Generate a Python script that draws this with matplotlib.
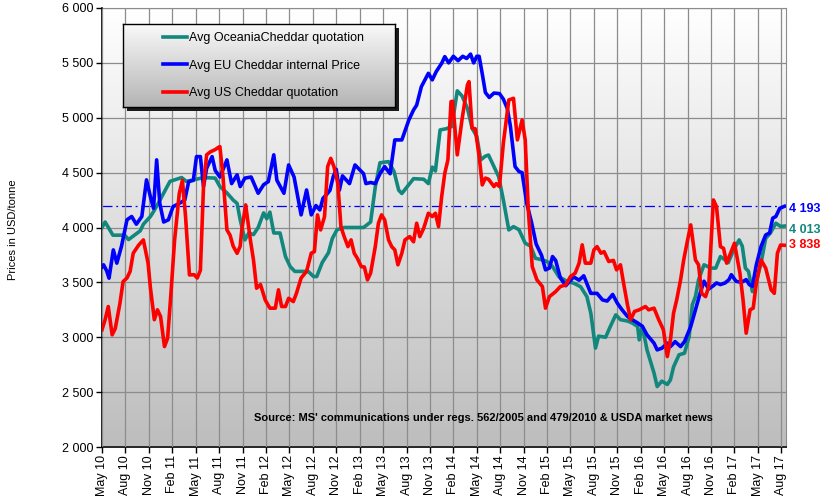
import numpy as np
import matplotlib
matplotlib.use("Agg")
import matplotlib.pyplot as plt
from matplotlib.patches import Rectangle

plt.rcParams['font.family'] = ['Liberation Sans', 'DejaVu Sans']

# months since May 2010
tick_labels = ["May 10", "Aug 10", "Nov 10", "Feb 11", "May 11", "Aug 11", "Nov 11", "Feb 12",
               "May 12", "Aug 12", "Nov 12", "Feb 13", "May 13", "Aug 13", "Nov 13", "Feb 14",
               "May 14", "Aug 14", "Nov 14", "Feb 15", "May 15", "Aug 15", "Nov 15", "Feb 16",
               "May 16", "Aug 16", "Nov 16", "Feb 17", "May 17", "Aug 17"]
tick_months = [3 * i for i in range(len(tick_labels))]

oce_m = [0.0, 0.4, 1.4, 2.9, 3.4, 4.9, 5.3, 6.2, 6.6, 7.2, 8.1, 8.7, 10.2, 10.8, 12.1, 13.0, 14.5,
         15.1, 16.0, 16.8, 17.3, 17.7, 18.3, 18.8, 19.4, 20.0, 20.7, 21.1, 21.5, 22.0, 22.8, 23.5,
         24.1, 24.7, 26.4, 27.1, 27.5, 28.2, 29.0, 29.5, 30.1, 31.0, 33.5, 34.4, 35.0, 35.6, 36.7,
         37.4, 38.0, 38.4, 39.1, 39.9, 41.2, 41.8, 42.3, 42.7, 43.3, 44.1, 44.8, 45.5, 46.1, 46.8,
         47.4, 48.0, 48.5, 49.1, 49.5, 50.2, 50.8, 51.4, 52.1, 52.7, 53.4, 54.2, 54.9, 55.5, 56.4,
         57.0, 57.7, 58.5, 59.4, 60.5, 61.3, 62.1, 62.6, 63.2, 63.6, 64.5, 65.1, 65.8, 66.4, 67.3,
         67.9, 68.6, 68.8, 69.2, 69.8, 70.7, 71.1, 71.7, 72.4, 72.8, 73.2, 73.9, 74.6, 75.2, 75.6,
         76.0, 76.4, 77.1, 78.0, 78.6, 79.2, 79.8, 80.2, 80.9, 81.6, 82.0, 82.4, 82.8, 83.3, 83.7,
         84.4, 85.0, 85.6, 86.3, 86.9, 87.4]
oce_v = [4000, 4050, 3930, 3930, 3890, 3970, 4030, 4100, 4145, 4220, 4340, 4420, 4455, 4420, 4440,
         4455, 4450, 4373, 4315, 4250, 4220, 4070, 3887, 3950, 3935, 4000, 4133, 4080, 4140, 3950,
         3950, 3735, 3644, 3600, 3600, 3553, 3553, 3680, 3770, 3900, 3980, 4000, 4000, 4050, 4370,
         4590, 4600, 4510, 4340, 4310, 4373, 4445, 4440, 4400, 4550, 4515, 4889, 4900, 4920, 5245,
         5200, 5086, 4904, 4830, 4616, 4650, 4660, 4555, 4464, 4251, 3978, 4008, 3980, 3857, 3830,
         3720, 3705, 3690, 3644, 3553, 3515, 3490, 3460, 3370, 3220, 2901, 3010, 3000, 3098, 3204,
         3160, 3148, 3130, 3098, 2976, 3100, 2885, 2673, 2551, 2600, 2570, 2612, 2730, 2840, 2855,
         3007, 3295, 3370, 3523, 3660, 3630, 3630, 3735, 3705, 3680, 3796, 3887, 3830, 3630, 3600,
         3416, 3480, 3675, 3902, 3950, 4039, 4010, 4013]

eu_m = [0.0, 0.2, 0.6, 0.9, 1.45, 1.9, 2.5, 3.2, 3.8, 4.4, 5.1, 5.7, 6.2, 6.6, 7.0, 7.4, 7.9, 8.5,
        9.1, 9.9, 10.6, 11.1, 11.7, 12.1, 12.6, 13.0, 13.4, 14.1, 14.5, 15.1, 16.0, 16.6, 17.3, 17.7,
        18.3, 19.1, 20.0, 20.7, 21.3, 22.0, 22.4, 23.3, 23.9, 24.6, 25.5, 26.2, 26.8, 27.4, 27.9,
        28.3, 28.9, 29.2, 29.6, 30.0, 30.4, 30.8, 31.7, 32.4, 33.5, 33.8, 34.4, 35.0, 35.6, 36.2,
        36.9, 37.5, 38.4, 39.3, 39.9, 40.3, 40.9, 41.8, 42.3, 42.8, 43.5, 43.9, 44.4, 45.0, 45.6,
        46.2, 46.7, 47.2, 47.6, 48.0, 48.3, 48.7, 49.1, 49.6, 50.2, 50.9, 51.4, 51.9, 52.3, 52.9,
        53.4, 53.8, 54.4, 55.0, 55.6, 56.3, 56.8, 57.3, 57.7, 58.1, 58.7, 59.4, 60.4, 61.1, 61.7,
        62.6, 63.4, 64.1, 64.7, 65.4, 66.0, 66.6, 67.3, 67.9, 68.6, 69.2, 69.8, 70.7, 71.1, 71.7,
        72.4, 72.8, 73.4, 74.1, 74.6, 75.4, 76.0, 76.6, 77.1, 77.7, 78.3, 78.7, 79.2, 79.8, 80.3,
        80.6, 81.2, 81.9, 82.5, 82.9, 83.3, 83.8, 84.4, 85.0, 85.5, 85.9, 86.3, 86.8, 87.4]
eu_v = [3640, 3660, 3605, 3538, 3796, 3675, 3830, 4070, 4100, 4030, 4100, 4434, 4280, 4175, 4616,
        4220, 4050, 4070, 4190, 4220, 4250, 4418, 4430, 4646, 4646, 4373, 4540, 4646, 4520, 4460,
        4616, 4400, 4480, 4373, 4450, 4460, 4312, 4390, 4418, 4662, 4430, 4312, 4570, 4460, 4115,
        4342, 4115, 4200, 4160, 4265, 4312, 4340, 4460, 4530, 4340, 4470, 4400, 4570, 4490, 4400,
        4410, 4400, 4490, 4555, 4490, 4798, 4798, 4980, 5071, 5115, 5283, 5405, 5345, 5420, 5496,
        5557, 5500, 5560, 5520, 5560, 5540, 5580, 5500, 5560, 5560, 5400, 5230, 5185, 5225, 5220,
        5170, 5086, 4925, 4555, 4510, 4500, 4220, 4050, 3850, 3745, 3614, 3630, 3735, 3700, 3540,
        3470, 3550, 3520, 3560, 3400, 3400, 3340, 3330, 3390, 3310, 3250, 3190, 3160, 3130, 3100,
        3022, 2946, 2885, 2900, 2946, 2915, 2960, 2915, 2960, 3098, 3250, 3400, 3510, 3440, 3470,
        3495, 3480, 3495, 3525, 3570, 3510, 3500, 3525, 3480, 3465, 3660, 3826, 3932, 3950, 4085,
        4100, 4175, 4193]

us_m = [0.0, 0.4, 0.8, 1.3, 1.7, 2.3, 2.7, 3.2, 3.6, 4.0, 4.7, 5.3, 5.9, 6.2, 6.7, 7.1, 7.5, 8.0,
        8.4, 8.8, 9.3, 9.9, 10.3, 10.7, 11.2, 11.8, 12.2, 12.6, 13.0, 13.4, 13.9, 14.5, 14.9, 15.1,
        15.5, 16.0, 16.4, 16.8, 17.3, 17.7, 17.9, 18.4, 19.0, 19.4, 19.8, 20.3, 20.9, 21.5, 22.2,
        22.6, 23.0, 23.5, 23.9, 24.5, 24.9, 25.5, 26.2, 26.8, 27.2, 27.6, 28.0, 28.5, 28.9, 29.3,
        29.7, 30.2, 30.6, 31.0, 31.5, 31.9, 32.3, 32.7, 33.2, 33.6, 34.0, 34.4, 35.0, 35.4, 35.8,
        36.2, 36.7, 37.1, 37.5, 37.9, 38.4, 38.8, 39.4, 39.9, 40.3, 40.7, 41.2, 41.8, 42.3, 42.7,
        43.1, 43.5, 43.9, 44.3, 44.7, 44.9, 45.5, 46.1, 46.8, 47.0, 47.4, 47.8, 48.3, 48.7, 49.1,
        49.5, 50.2, 50.5, 50.9, 51.4, 52.1, 52.7, 53.2, 53.8, 54.2, 54.6, 55.1, 55.7, 56.4, 56.8,
        57.3, 58.1, 58.7, 59.4, 60.0, 60.6, 61.1, 61.5, 61.9, 62.6, 63.0, 63.4, 63.9, 64.3, 64.9,
        65.5, 65.9, 66.4, 66.8, 67.3, 67.7, 68.2, 68.8, 69.2, 69.6, 70.0, 70.7, 71.3, 71.9, 72.4,
        72.8, 73.2, 73.6, 74.1, 74.5, 75.0, 75.4, 76.0, 76.4, 76.8, 77.3, 77.7, 78.3, 78.7, 79.2,
        79.6, 80.0, 80.5, 81.0, 81.7, 82.1, 82.5, 83.0, 83.4, 83.8, 84.4, 85.0, 85.7, 86.1, 86.5,
        86.9, 87.4]
us_v = [3068, 3160, 3280, 3022, 3080, 3310, 3507, 3540, 3600, 3766, 3840, 3887, 3675, 3450, 3160,
        3250, 3190, 2915, 2990, 3370, 3887, 4312, 4430, 4100, 3568, 3570, 3540, 3610, 4373, 4662,
        4690, 4710, 4730, 4737, 4460, 3978, 3930, 3830, 3765, 3830, 3978, 4206, 3887, 3705, 3447,
        3480, 3340, 3265, 3265, 3432, 3280, 3280, 3355, 3325, 3400, 3540, 3600, 3766, 3780, 4115,
        3978, 4100, 4555, 4630, 4555, 4403, 4008, 3920, 3826, 3887, 3766, 3720, 3644, 3640, 3523,
        3584, 3826, 4039, 4115, 4070, 3887, 3826, 3796, 3660, 3766, 3887, 3917, 3870, 4039, 3917,
        3993, 4130, 4100, 4130, 4008, 4280, 4494, 4616, 5147, 5150, 4662, 4980, 5299, 5329, 4904,
        4900, 4650, 4388, 4450, 4440, 4373, 4400, 4373, 4768, 5162, 5177, 4798, 4980, 4798, 4160,
        3644, 3523, 3462, 3265, 3370, 3416, 3462, 3477, 3553, 3584, 3675, 3842, 3675, 3675, 3796,
        3826, 3766, 3780, 3690, 3700, 3614, 3660, 3493, 3295, 3160, 3235, 3250, 3265, 3280, 3250,
        3265, 3160, 3068, 2824, 2976, 3220, 3340, 3523, 3705, 3887, 4024, 3705, 3660, 3400, 3370,
        3460, 4251, 4190, 3826, 3810, 3675, 3766, 3857, 3584, 3340, 3037, 3250, 3265, 3493, 3705,
        3630, 3432, 3400, 3766, 3840, 3838]

labels = ["Avg OceaniaCheddar quotation", "Avg EU Cheddar internal Price", "Avg US Cheddar quotation"]
colors = ["#12877d", "#0000ff", "#ff0000"]
source = "Source: MS' communications under regs. 562/2005 and 479/2010 & USDA market news"


def fmt(v):
    return f"{v:,}".replace(",", " ")


fig = plt.figure(figsize=(8.25, 5.0), dpi=100)
ax = fig.add_axes([102 / 825, 1 - 447 / 500, 684 / 825, 439 / 500])
xmax = 87.6
ax.set_xlim(0, xmax)
ax.set_ylim(2000, 6000)

# background gradient
grad = np.linspace(1, 0, 256).reshape(-1, 1)
cm_bg = matplotlib.colors.LinearSegmentedColormap.from_list('g', ['#bdbdbd', '#ffffff'])
ax.imshow(grad, extent=[0, xmax, 2000, 6000], aspect='auto', cmap=cm_bg, origin='upper', zorder=0)

ax.set_xticks(tick_months)
ax.set_xticklabels(tick_labels, rotation=90, fontsize=9)
yt = list(range(2000, 6001, 500))
ax.set_yticks(yt)
ax.set_yticklabels([fmt(v) for v in yt], fontsize=9)
ax.grid(True, color='#8c8c8c', lw=0.9, zorder=1)
ax.set_axisbelow(False)
for s in ['top', 'right']:
    ax.spines[s].set_color('#8c8c8c')
for s in ['left', 'bottom']:
    ax.spines[s].set_color('black')
    ax.spines[s].set_linewidth(1.2)
ax.tick_params(axis='both', length=4, width=1, pad=2)

lines = []
for m, v, c, lab in [(oce_m, oce_v, colors[0], labels[0]), (eu_m, eu_v, colors[1], labels[1]),
                     (us_m, us_v, colors[2], labels[2])]:
    ln, = ax.plot(m, v, color=c, lw=2.6, label=lab, zorder=3, solid_joinstyle='round')
    lines.append(ln)

ax.plot([0, eu_m[-1]], [eu_v[-1], eu_v[-1]], color='#0000ff', lw=0.9, ls=(0, (8, 3, 1.5, 3)), zorder=2)

ax.text(88.0, eu_v[-1] - 25, fmt(eu_v[-1]), color=colors[1], fontsize=9, fontweight='bold',
        va='center', ha='left', clip_on=False)
ax.text(88.0, oce_v[-1] - 35, fmt(oce_v[-1]), color=colors[0], fontsize=9, fontweight='bold',
        va='center', ha='left', clip_on=False)
ax.text(88.0, us_v[-1], fmt(us_v[-1]), color=colors[2], fontsize=9, fontweight='bold',
        va='center', ha='left', clip_on=False)

ax.text(0.557, 0.066, source, transform=ax.transAxes, fontsize=8, fontweight='bold', ha='center', va='center')
fig.text(13 / 825, 1 - 230 / 500, "Prices in USD/tonne", rotation=90, fontsize=8, ha='center', va='center')

# legend box with shadow
shadow = Rectangle(((123 + 4) / 825, 1 - (107 + 4) / 500), 272 / 825, 83 / 500, transform=fig.transFigure,
                   facecolor='#1a1a1a', edgecolor='none', zorder=5)
fig.patches.append(shadow)
lax = fig.add_axes([123 / 825, 1 - 107 / 500, 272 / 825, 83 / 500])
lax.set_zorder(10)
cm_leg = matplotlib.colors.LinearSegmentedColormap.from_list('g2', ['#b4b4b4', '#fafafa'])
lax.imshow(grad, extent=[0, 1, 0, 1], aspect='auto', cmap=cm_leg, origin='upper')
lax.set_xlim(0, 1)
lax.set_ylim(0, 1)
lax.set_xticks([])
lax.set_yticks([])
for s in lax.spines.values():
    s.set_color('black')
    s.set_linewidth(1.0)
leg = lax.legend(lines, labels, loc='center left', bbox_to_anchor=(0.13, 0.5), frameon=False, fontsize=9,
                 handlelength=1.9, handletextpad=0.15, labelspacing=1.25, borderaxespad=0)

fig.savefig("out.png", dpi=100)
